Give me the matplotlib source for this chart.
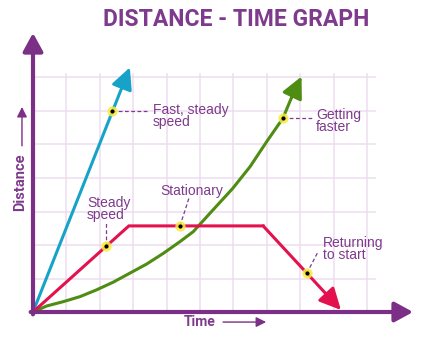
import matplotlib.pyplot as plt

# datos
fast_x = [0, 2.9]
fast_y = [0, 7.3]

faster_x = [0, 0.41, 0.91, 1.41, 1.9, 2.4, 2.9, 3.4, 3.9, 4.4, 4.8, 5.3, 5.98, 6.5, 7.0, 7.48, 7.74, 8.04]
faster_y = [0, 0.18, 0.31, 0.46, 0.66, 0.89, 1.16, 1.43, 1.75, 2.1, 2.4, 2.95, 3.69, 4.34, 5.09, 5.78, 6.4, 7.03]

steady_x = [0, 2.87, 6.89, 9.22]
steady_y = [0, 2.57, 2.57, 0.06]

labels = ["Fast, steady\nspeed", "Getting\nfaster", "Steady\nspeed", "Stationary", "Returning\nto start"]
label_pos = [(3.59, 6.23), (8.47, 6.08), (1.62, 3.45), (3.8, 3.81), (8.68, 2.26)]
dots = [(2.37, 6.0), (7.48, 5.78), (2.2, 1.97), (4.4, 2.57), (8.2, 1.16)]
leaders = [(3.44, 6.0), (8.35, 5.78), (2.2, 2.72), (4.67, 3.4), (8.53, 1.79)]

purple = "#7c2f86"
text_purple = "#7e3a8c"
blue = "#17a3c8"
green = "#4e8c12"
red = "#e3124f"
grid_c = "#eddcf0"

fig = plt.figure(figsize=(4.33, 3.37), dpi=100)
ax = fig.add_axes([0, 0, 1, 1])
ax.set_xlim(-0.988, 11.976)
ax.set_ylim(-0.746, 9.313)
ax.axis("off")

# cuadricula
for i in range(1, 11):
    ax.plot([i, i], [0, 7.1], color=grid_c, lw=1.1, zorder=1)
for j in range(1, 8):
    ax.plot([0, 10.25], [j, j], color=grid_c, lw=1.1, zorder=1)

# ejes con flecha
ax.annotate("", xy=(0, 8.33), xytext=(0, -0.07),
            arrowprops=dict(arrowstyle="-|>,head_length=0.55,head_width=0.3",
                            color=purple, lw=3, shrinkA=0, shrinkB=0, mutation_scale=20), zorder=5)
ax.annotate("", xy=(11.38, 0), xytext=(-0.07, 0),
            arrowprops=dict(arrowstyle="-|>,head_length=0.55,head_width=0.3",
                            color=purple, lw=3, shrinkA=0, shrinkB=0, mutation_scale=20), zorder=5)

arrow_style = dict(arrowstyle="-|>,head_length=0.65,head_width=0.32", lw=2.2,
                   shrinkA=0, shrinkB=0, mutation_scale=20)

# rapido
ax.annotate("", xy=(fast_x[1], fast_y[1]), xytext=(fast_x[0], fast_y[0]),
            arrowprops=dict(color=blue, **arrow_style), zorder=3)

# acelerando
ax.plot(faster_x[:-1], faster_y[:-1], color=green, lw=2.2, zorder=3, solid_capstyle="round")
ax.annotate("", xy=(faster_x[-1], faster_y[-1]), xytext=(faster_x[-2], faster_y[-2]),
            arrowprops=dict(color=green, **arrow_style), zorder=3)

# ida y vuelta
ax.plot(steady_x[:-1], steady_y[:-1], color=red, lw=2.2, zorder=3, solid_joinstyle="miter")
ax.annotate("", xy=(steady_x[-1], steady_y[-1]), xytext=(steady_x[-2], steady_y[-2]),
            arrowprops=dict(color=red, **arrow_style), zorder=3)

# etiquetas
for (dx, dy), (lx, ly) in zip(dots, leaders):
    ax.plot([dx, lx], [dy, ly], color=text_purple, lw=0.9, ls=(0, (3, 2)), zorder=4)
for dx, dy in dots:
    ax.scatter(dx, dy, s=55, color="#f6ec3c", alpha=0.85, zorder=6, linewidths=0)
    ax.scatter(dx, dy, s=9, color="black", zorder=7, linewidths=0)
for txt, (tx, ty) in zip(labels, label_pos):
    ax.text(tx, ty, txt, color=text_purple, fontsize=10, family="Liberation Sans",
            ha="left", va="top", linespacing=0.82, zorder=8)

ax.text(6.08, 8.72, "DISTANCE - TIME GRAPH", color=text_purple, fontsize=16.5,
        family="Roboto", weight="bold", ha="center", va="center")
ax.text(-0.39, 3.88, "Distance", color=text_purple, fontsize=10.5, family="Roboto",
        weight="bold", rotation=90, ha="center", va="center")
ax.annotate("", xy=(-0.33, 6.12), xytext=(-0.33, 4.96),
            arrowprops=dict(arrowstyle="-|>,head_length=0.5,head_width=0.25", color=purple,
                            lw=1.0, shrinkA=0, shrinkB=0, mutation_scale=12))
ax.text(5.0, -0.30, "Time", color=text_purple, fontsize=10, family="Roboto",
        weight="bold", ha="center", va="center")
ax.annotate("", xy=(6.98, -0.30), xytext=(5.69, -0.30),
            arrowprops=dict(arrowstyle="-|>,head_length=0.5,head_width=0.25", color=purple,
                            lw=1.0, shrinkA=0, shrinkB=0, mutation_scale=12))

fig.savefig("out.png", dpi=100)
